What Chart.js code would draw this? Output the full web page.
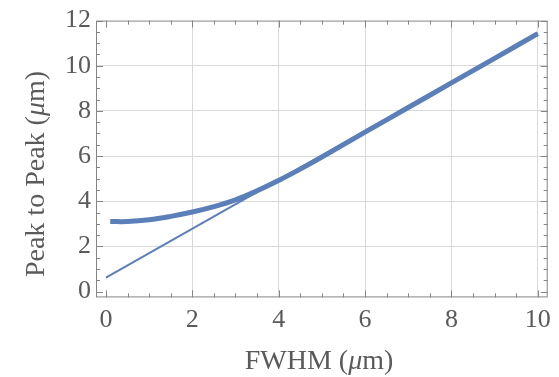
<!DOCTYPE html>
<html>
<head>
<meta charset="utf-8">
<script src="https://cdn.jsdelivr.net/npm/chart.js@4"></script>
<style>
  html, body { margin: 0; padding: 0; background: #fff; }
  #wrap { width: 559px; height: 377px; }
</style>
</head>
<body>
<div id="wrap"><canvas id="chart"></canvas></div>
<script>
// values
const curveX = [0.1, 0.5, 1, 1.5, 2, 2.5, 3, 3.5, 4, 4.5, 5, 6, 7, 8, 9, 10];
const curveY = [3.10, 3.10, 3.18, 3.33, 3.52, 3.76, 4.06, 4.46, 4.92, 5.42, 5.95, 7.06, 8.15, 9.24, 10.33, 11.42];
const lineX = [0, 10];
const lineY = [0.62, 11.45];
const xTicks = [0, 2, 4, 6, 8, 10];
const yTicks = [0, 2, 4, 6, 8, 10, 12];
const xTitle = ['FWHM (', 'μ', 'm)'];
const yTitle = ['Peak to Peak (', 'μ', 'm)'];

const BLUE = '#5b7fb8';
const FRAME = '#858585';
const TEXT = '#5a5a5a';
const SERIF = '"Liberation Serif", "DejaVu Serif", serif';

function toPoints(xs, ys) {
    return xs.map((x, i) => ({ x: x, y: ys[i] }));
}

// draws "text (μm)" with an italic μ, centred on 0
function drawMixed(ctx, parts, size) {
    const fonts = [size + 'px ' + SERIF, 'italic ' + size + 'px ' + SERIF, size + 'px ' + SERIF];
    let total = 0;
    const widths = parts.map((p, i) => { ctx.font = fonts[i]; const w = ctx.measureText(p).width; total += w; return w; });
    let x = -total / 2;
    parts.forEach((p, i) => {
        ctx.font = fonts[i];
        ctx.fillText(p, x, 0);
        x += widths[i];
    });
}

// mathematica style frame with inward ticks + axis titles
const framePlugin = {
    id: 'frame',
    afterDatasetsDraw(chart) {
        const { ctx, chartArea: a, scales } = chart;
        const xs = scales.x, ys = scales.y;
        ctx.save();
        ctx.strokeStyle = FRAME;
        ctx.lineWidth = 1;
        ctx.strokeRect(a.left + 0.5, a.top + 0.5, a.right - a.left - 1, a.bottom - a.top - 1);
        ctx.beginPath();
        for (let v = 0; v <= 10.001; v += 0.5) {
            const px = Math.round(xs.getPixelForValue(v)) + 0.5;
            const len = (v % 2 === 0) ? 7 : 4;
            ctx.moveTo(px, a.bottom); ctx.lineTo(px, a.bottom - len);
            ctx.moveTo(px, a.top); ctx.lineTo(px, a.top + len);
        }
        for (let v = 0; v <= 12.001; v += 0.5) {
            const py = Math.round(ys.getPixelForValue(v)) + 0.5;
            const len = (v % 2 === 0) ? 7 : 4;
            ctx.moveTo(a.left, py); ctx.lineTo(a.left + len, py);
            ctx.moveTo(a.right, py); ctx.lineTo(a.right - len, py);
        }
        ctx.stroke();

        // axis titles
        ctx.fillStyle = TEXT;
        ctx.textBaseline = 'alphabetic';
        ctx.save();
        ctx.translate(319, 369);
        drawMixed(ctx, xTitle, 28);
        ctx.restore();
        ctx.save();
        ctx.translate(44, 174);
        ctx.rotate(-Math.PI / 2);
        drawMixed(ctx, yTitle, 28);
        ctx.restore();
        ctx.restore();
    }
};

new Chart(document.getElementById('chart'), {
    type: 'scatter',
    data: {
        datasets: [
            {
                data: toPoints(curveX, curveY),
                showLine: true,
                borderColor: BLUE,
                borderWidth: 5,
                pointRadius: 0,
                tension: 0.4
            },
            {
                data: toPoints(lineX, lineY),
                showLine: true,
                borderColor: BLUE,
                borderWidth: 2,
                pointRadius: 0
            }
        ]
    },
    options: {
        responsive: true,
        maintainAspectRatio: false,
        animation: false,
        layout: { padding: { top: 19, right: 11, left: 60, bottom: 35 } },
        plugins: { legend: { display: false }, tooltip: { enabled: false } },
        scales: {
            x: {
                type: 'linear',
                min: -0.23,
                max: 10.23,
                afterBuildTicks: (axis) => { axis.ticks = xTicks.map(v => ({ value: v })); },
                border: { display: false },
                grid: {
                    drawTicks: false,
                    color: (c) => (c.tick && c.tick.value === 0) ? 'rgba(0,0,0,0)' : '#d9d9d9'
                },
                ticks: {
                    padding: 8,
                    maxRotation: 0,
                    color: TEXT,
                    font: { family: SERIF, size: 26, lineHeight: 1.1 }
                }
            },
            y: {
                type: 'linear',
                min: -0.26,
                max: 12,
                afterBuildTicks: (axis) => { axis.ticks = yTicks.map(v => ({ value: v })); },
                border: { display: false },
                grid: {
                    drawTicks: false,
                    color: (c) => (c.tick && (c.tick.value === 0 || c.tick.value === 12)) ? 'rgba(0,0,0,0)' : '#d9d9d9'
                },
                ticks: {
                    padding: 5,
                    color: TEXT,
                    font: { family: SERIF, size: 26 }
                }
            }
        }
    },
    plugins: [framePlugin]
});
</script>
</body>
</html>
